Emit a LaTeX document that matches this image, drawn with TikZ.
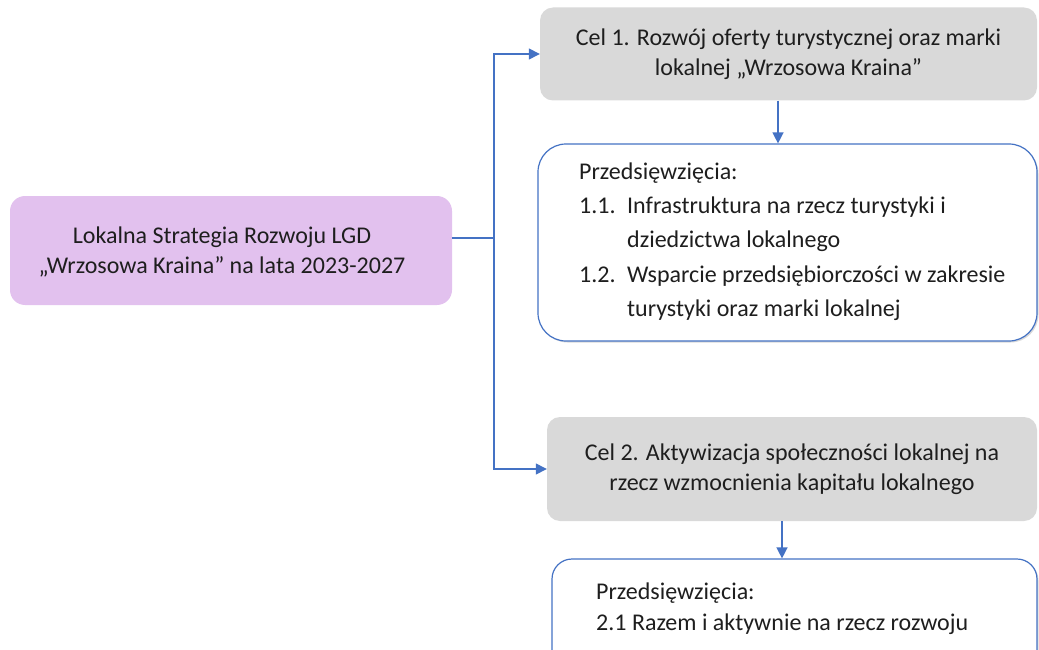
\documentclass[tikz,border=0pt]{standalone}
\usepackage{fontspec}
\setmainfont{Carlito}
\usetikzlibrary{arrows.meta,shadows}
\definecolor{lila}{RGB}{226,193,238}
\definecolor{celgray}{RGB}{217,217,217}
\definecolor{lineblue}{RGB}{68,114,196}
\definecolor{txt}{RGB}{30,30,30}
\tikzset{
  lsrbox/.style={fill=lila, draw=none, rounded corners=15pt, inner sep=0pt},
  celbox/.style={fill=celgray, draw=none, rounded corners=13pt, inner sep=0pt,
    align=center, text=txt, font=\fontsize{24}{30}\selectfont},
  przbox/.style={fill=white, draw=lineblue, line width=1.2pt, rounded corners=28pt,
    inner sep=0pt, drop shadow={shadow xshift=1.5pt, shadow yshift=-1.5pt, opacity=0.25, fill=black!60}},
  plain/.style={inner sep=0pt, text=txt, align=left},
  conn/.style={draw=lineblue, line width=1.4pt},
  arr/.style={conn, -{Triangle[length=11pt,width=11pt]}},
}
\begin{document}
\begin{tikzpicture}[x=1pt,y=-1pt]
\useasboundingbox (0,0) rectangle (1039,650);
\clip (0,0) rectangle (1039,650);

% left box
\node[lsrbox, minimum width=442pt, minimum height=109pt] (lsr) at (231,250.5) {};
\node[plain, align=center, font=\fontsize{24}{30}\selectfont] (lsrtext) at (222,252)
  {Lokalna Strategia Rozwoju LGD\\„Wrzosowa Kraina” na lata 2023-2027};

% goal 1
\node[celbox, minimum width=497pt, minimum height=93pt] (cel1) at (788.5,54)
  {Cel 1. Rozwój oferty turystycznej oraz marki\\lokalnej „Wrzosowa Kraina”};

% projects 1
\node[przbox, minimum width=499pt, minimum height=197pt] (p1) at (787.5,242.5) {};
\node[plain, anchor=west, font=\fontsize{24}{34.25}\selectfont] (p1text) at (579,241.5)
  {Przedsięwzięcia:\\
   \makebox[48pt][l]{1.1.}Infrastruktura na rzecz turystyki i\\
   \hspace*{48pt}dziedzictwa lokalnego\\
   \makebox[48pt][l]{1.2.}Wsparcie przedsiębiorczości w zakresie\\
   \hspace*{48pt}turystyki oraz marki lokalnej};

% goal 2
\node[celbox, minimum width=490pt, minimum height=104pt] (cel2) at (792,469)
  {Cel 2. Aktywizacja społeczności lokalnej na\\rzecz wzmocnienia kapitału lokalnego};

% projects 2
\node[przbox, rounded corners=20pt, minimum width=485pt, minimum height=140pt] (p2) at (794.5,629) {};
\node[plain, anchor=west, font=\fontsize{24}{31}\selectfont] (p2text) at (596,608.5)
  {Przedsięwzięcia:\\2.1 Razem i aktywnie na rzecz rozwoju};

% connectors
\coordinate (jn) at (494,238);
\coordinate (a1) at (778,0);
\coordinate (a2) at (782,0);
\draw[conn] (jn -| lsr.east) -- (jn);
\draw[arr] (jn) |- (cel1.west);
\draw[arr] (jn) |- (cel2.west);
\draw[arr] (cel1.south -| a1) -- (p1.north -| a1);
\draw[arr] (cel2.south -| a2) -- (p2.north -| a2);
\end{tikzpicture}
\end{document}
